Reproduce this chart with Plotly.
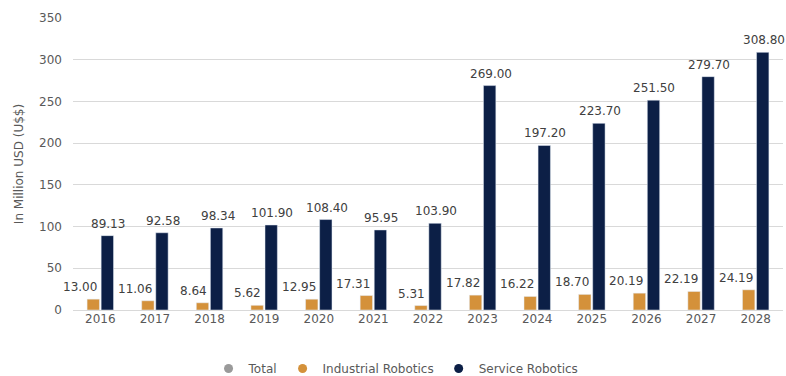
import plotly.graph_objects as go

years = ["2016", "2017", "2018", "2019", "2020", "2021", "2022",
         "2023", "2024", "2025", "2026", "2027", "2028"]
industrial = [13.00, 11.06, 8.64, 5.62, 12.95, 17.31, 5.31,
              17.82, 16.22, 18.70, 20.19, 22.19, 24.19]
service = [89.13, 92.58, 98.34, 101.90, 108.40, 95.95, 103.90,
           269.00, 197.20, 223.70, 251.50, 279.70, 308.80]
y_ticks = [0, 50, 100, 150, 200, 250, 300, 350]

GRAY = "#9a9a9a"
ORANGE = "#d4913a"
NAVY = "#0c1f46"
FONT = "DejaVu Sans"

fig = go.Figure()

for name, vals, color in [("Industrial Robotics", industrial, ORANGE),
                          ("Service Robotics", service, NAVY)]:
    fig.add_trace(go.Bar(x=years, y=vals, name=name, marker_color=color,
                         showlegend=False))

# value labels above each bar, kept on top of both series;
# on a category axis the annotation x is the category index.
# Industrial labels end at the bar's right edge, service labels are centred.
for vals, shift, anchor in [(industrial, -1, "right"), (service, 8, "center")]:
    for idx, v in enumerate(vals):
        fig.add_annotation(
            x=idx, y=v, text=f"{v:.2f}", showarrow=False,
            xshift=shift, xanchor=anchor, yanchor="bottom", yshift=3,
            font=dict(family=FONT, size=12, color="#404040"),
        )

# legend entries drawn as round markers
for name, color in [("Total", GRAY), ("Industrial Robotics", ORANGE),
                    ("Service Robotics", NAVY)]:
    fig.add_trace(go.Scatter(
        x=[None], y=[None], mode="markers", name=name,
        marker=dict(symbol="circle", size=9, color=color),
    ))

fig.update_layout(
    width=786, height=376,
    margin=dict(l=73, r=3, t=18, b=66),
    paper_bgcolor="white", plot_bgcolor="white",
    barmode="group", bargap=0.485, bargroupgap=0.12,
    font=dict(family=FONT, size=12, color="#595959"),
    legend=dict(orientation="h", x=0.455, xanchor="center",
                yref="container", y=0.02, yanchor="middle",
                font=dict(family=FONT, size=12, color="#595959"),
                itemwidth=30),
    xaxis=dict(type="category", categoryorder="array", categoryarray=years,
               range=[-0.5, len(years) - 0.5],
               showgrid=False, showline=False, ticks="",
               tickfont=dict(size=12, color="#595959")),
    yaxis=dict(range=[0, 350], tickvals=y_ticks, showgrid=True,
               gridcolor="#d9d9d9", gridwidth=1, zeroline=True,
               zerolinecolor="#d9d9d9", zerolinewidth=1,
               ticks="", ticklabelstandoff=10,
               tickfont=dict(size=12, color="#595959"),
               title=dict(text="In Million USD (U$$)", standoff=12,
                          font=dict(size=12, color="#595959"))),
)

fig.write_html("out.html")
